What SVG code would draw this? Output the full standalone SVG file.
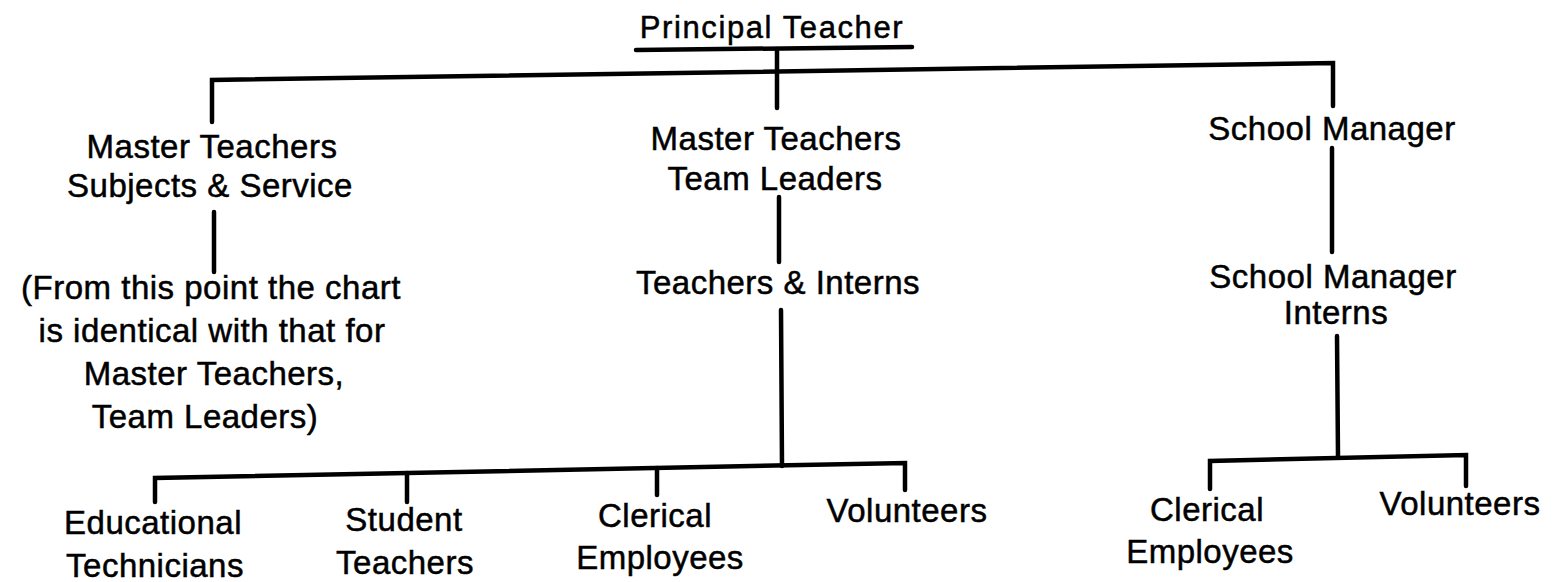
<svg xmlns="http://www.w3.org/2000/svg" width="1558" height="582" viewBox="0 0 1558 582">
<style>
text{font-family:"Liberation Sans",Arial,sans-serif;font-size:33px;letter-spacing:0.5px;fill:#000;stroke:#000;stroke-width:0.5;text-anchor:middle}
#principal text{font-size:31px;letter-spacing:1.6px}
.c{fill:none;stroke:#000;stroke-width:4.5;stroke-linecap:round;stroke-linejoin:miter}
</style>
<rect width="1558" height="582" fill="#fff"/>
<g id="connectors">
<path class="c" d="M636,50 L912,47"/>
<path class="c" d="M777,49 L777,108"/>
<path class="c" d="M212,122 L212,80 L1333,63 L1333,106"/>
<path class="c" d="M214,212 L214,272"/>
<path class="c" d="M779,197 L779,262"/>
<path class="c" d="M781,310 L782,466"/>
<path class="c" d="M155,502 L155,478 L905,463 L905,490"/>
<path class="c" d="M407,473 L407,502"/>
<path class="c" d="M657,468 L657,495"/>
<path class="c" d="M1332,148 L1332,252"/>
<path class="c" d="M1337,336 L1338,457"/>
<path class="c" d="M1210,489 L1210,461 L1466,455 L1466,486"/>
</g>
<g id="principal"><text x="772" y="38">Principal Teacher</text></g>
<g id="mt-subjects"><text x="212" y="158">Master Teachers</text><text x="210" y="197">Subjects &amp; Service</text></g>
<g id="note"><text x="211" y="299">(From this point the chart</text><text x="212" y="342">is identical with that for</text><text x="214" y="385">Master Teachers,</text><text x="205" y="428">Team Leaders)</text></g>
<g id="mt-team"><text x="776" y="150">Master Teachers</text><text x="775" y="190">Team Leaders</text></g>
<g id="teachers-interns"><text x="778" y="294">Teachers &amp; Interns</text></g>
<g id="school-manager"><text x="1332" y="140">School Manager</text></g>
<g id="sm-interns"><text x="1333" y="288">School Manager</text><text x="1336" y="324">Interns</text></g>
<g id="edtech"><text x="153" y="534">Educational</text><text x="155" y="577">Technicians</text></g>
<g id="student"><text x="404" y="531">Student</text><text x="405" y="574">Teachers</text></g>
<g id="clerical1"><text x="655" y="527">Clerical</text><text x="660" y="569">Employees</text></g>
<g id="volunteers1"><text x="907" y="522">Volunteers</text></g>
<g id="clerical2"><text x="1207" y="521">Clerical</text><text x="1210" y="563">Employees</text></g>
<g id="volunteers2"><text x="1460" y="515">Volunteers</text></g>
</svg>
